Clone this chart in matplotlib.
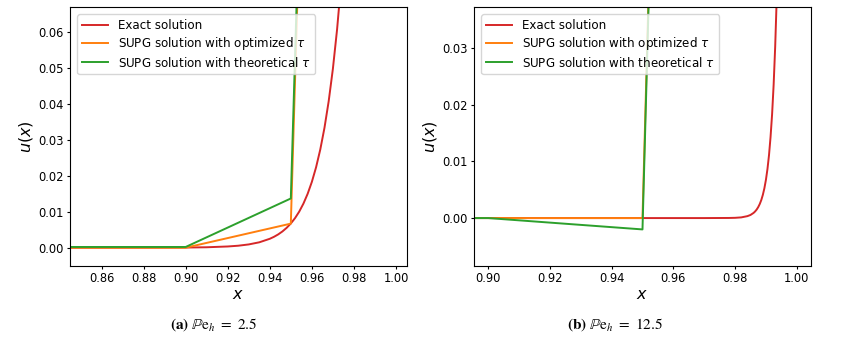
import matplotlib
matplotlib.use('Agg')
import matplotlib.pyplot as plt

# DATA - panel (a), Pe_h = 2.5
x_exact_a = [0.80, 0.86, 0.88, 0.90, 0.91, 0.92, 0.925, 0.93, 0.935, 0.94, 0.942,
             0.944, 0.946, 0.948, 0.95, 0.952, 0.954, 0.956, 0.958, 0.96, 0.962,
             0.964, 0.966, 0.968, 0.97, 0.972, 0.974]
u_exact_a = [0.0, 0.0, 0.00001, 0.000045, 0.00012, 0.00034, 0.00055, 0.00091, 0.0015,
             0.00248, 0.00303, 0.0037, 0.00452, 0.00552, 0.00674, 0.00823, 0.01005,
             0.01228, 0.015, 0.01832, 0.02237, 0.02732, 0.03337, 0.04076, 0.04979,
             0.06081, 0.07427]
x_nodes_a = [0.80, 0.85, 0.90, 0.95, 1.00]
u_opt_a = [0.0, 0.0, 0.0, 0.0067, 1.0]
u_theo_a = [0.0002, 0.0002, 0.0002, 0.0137, 1.0]

# DATA - panel (b), Pe_h = 12.5
x_exact_b = [0.85, 0.95, 0.97, 0.978, 0.98, 0.982, 0.984, 0.985, 0.986, 0.9865, 0.987,
             0.9875, 0.988, 0.9885, 0.989, 0.9895, 0.99, 0.9905, 0.991, 0.9915, 0.992,
             0.9925, 0.993, 0.9935, 0.994]
u_exact_b = [0.0, 0.0, 0.0, 0.00002, 0.000045, 0.00012, 0.00034, 0.00055, 0.00091,
             0.00117, 0.0015, 0.00193, 0.00248, 0.00318, 0.00409, 0.00525, 0.00674,
             0.00865, 0.0111, 0.0143, 0.0183, 0.0235, 0.0302, 0.0388, 0.0498]
x_nodes_b = [0.85, 0.90, 0.95, 1.00]
u_opt_b = [0.0, 0.0, 0.0, 1.0]
u_theo_b = [0.0, 0.0, -0.0020, 1.0]

labels = ['Exact solution',
          r'SUPG solution with optimized $\tau$',
          r'SUPG solution with theoretical $\tau$']
captions = [r'$\mathbf{(a)}\ \mathbb{P}\mathrm{e}_h\ =\ 2.5$',
            r'$\mathbf{(b)}\ \mathbb{P}\mathrm{e}_h\ =\ 12.5$']

RED, ORANGE, GREEN = '#d62728', '#ff7f0e', '#2ca02c'

fig = plt.figure(figsize=(8.46, 3.4), dpi=100)
ax_a = fig.add_axes([0.0827, 0.2176, 0.3983, 0.7618])
ax_b = fig.add_axes([0.5603, 0.2176, 0.3983, 0.7618])

panels = [
    (ax_a, x_exact_a, u_exact_a, x_nodes_a, u_opt_a, u_theo_a,
     (0.845, 1.0052), (-0.0051, 0.067), [0.86, 0.88, 0.90, 0.92, 0.94, 0.96, 0.98, 1.00],
     [0.00, 0.01, 0.02, 0.03, 0.04, 0.05, 0.06]),
    (ax_b, x_exact_b, u_exact_b, x_nodes_b, u_opt_b, u_theo_b,
     (0.8954, 1.0046), (-0.00845, 0.0372), [0.90, 0.92, 0.94, 0.96, 0.98, 1.00],
     [0.00, 0.01, 0.02, 0.03]),
]

for ax, xe, ue, xn, uo, ut, xl, yl, xt, yt in panels:
    ax.plot(xe, ue, color=RED, lw=1.4, label=labels[0])
    ax.plot(xn, uo, color=ORANGE, lw=1.4, label=labels[1])
    ax.plot(xn, ut, color=GREEN, lw=1.4, label=labels[2])
    ax.set_xlim(*xl)
    ax.set_ylim(*yl)
    ax.set_xticks(xt)
    ax.set_xticklabels([f'{v:.2f}' for v in xt])
    ax.set_yticks(yt)
    ax.set_yticklabels([f'{v:.2f}' for v in yt])
    ax.tick_params(labelsize=8.3, length=2.3, pad=2.3)
    ax.set_xlabel(r'$x$', fontsize=11.5, labelpad=1)
    ax.set_ylabel(r'$u(x)$', fontsize=11.5, labelpad=2)
    ax.legend(loc='upper left', fontsize=8.6, handlelength=2.2, labelspacing=0.28,
              borderaxespad=0.6)

fig.text(0.252, 0.045, captions[0], ha='center', va='center', fontsize=11,
         math_fontfamily='stix')
fig.text(0.727, 0.045, captions[1], ha='center', va='center', fontsize=11,
         math_fontfamily='stix')

fig.savefig('out.png', dpi=100)
